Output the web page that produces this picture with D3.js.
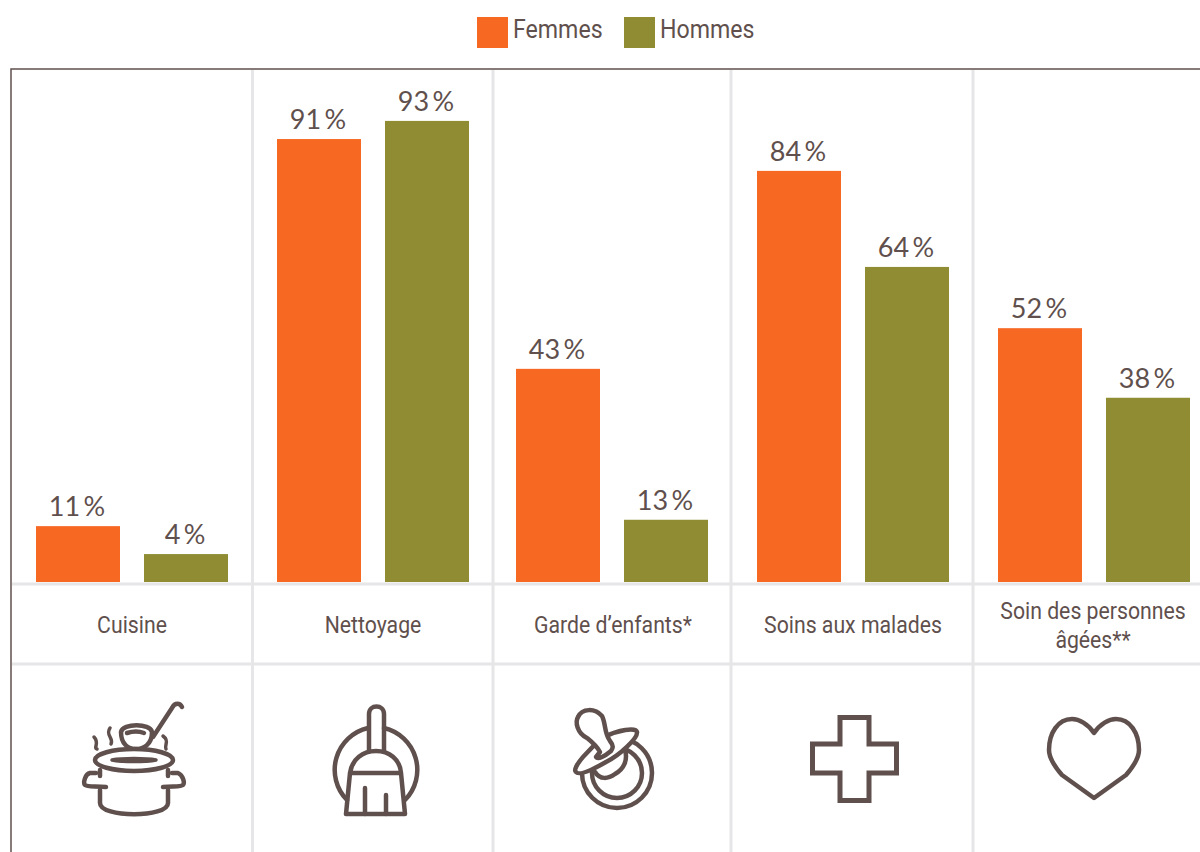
<!DOCTYPE html>
<html><head><meta charset="utf-8">
<script src="https://cdn.jsdelivr.net/npm/d3@7/dist/d3.min.js"></script>
<style>html,body{margin:0;background:#fff}svg{display:block}</style>
</head><body><svg id="c" width="1200" height="852"></svg>
<script>
const categories = ["Cuisine","Nettoyage","Garde d’enfants*","Soins aux malades","Soin des personnes|âgées**"];
const series = ["Femmes","Hommes"];
const femmesLabels = ["11\u2009%","91\u2009%","43\u2009%","84\u2009%","52\u2009%"];
const hommesLabels = ["4\u2009%","93\u2009%","13\u2009%","64\u2009%","38\u2009%"];
const femmesBars = [11.4,90.4,43.5,83.9,51.8];
const hommesBars = [5.7,94.1,12.7,64.3,37.6];

const ink="#5f504d", grid="#e6e6e8", colors=d3.scaleOrdinal(series,["#f76823","#8f8c33"]);
const svg=d3.select("#c");
const y=d3.scaleLinear([0,100],[582,92]);
const edges=[11,252.5,493,731,973,1215];
const cx=d3.scaleOrdinal(categories,[132,373,612,853,1094]);
const x1=d3.scaleBand(series,[-96,96]).paddingInner(24/108);

// frame
const g=svg.append("g").attr("stroke",grid).attr("stroke-width",3);
edges.slice(1,5).forEach(e=>g.append("line").attr("x1",e).attr("x2",e).attr("y1",70).attr("y2",852));
[584,664].forEach(v=>g.append("line").attr("x1",12).attr("x2",1200).attr("y1",v).attr("y2",v));
svg.append("path").attr("d","M11 852V69H1200").attr("fill","none").attr("stroke",ink).attr("stroke-width",1.5);

// bars and labels
series.forEach((s,si)=>{
  const vals=si?hommesBars:femmesBars, labs=si?hommesLabels:femmesLabels;
  const xp=i=>cx(categories[i])+x1(s);
  svg.append("g").selectAll("rect").data(vals).join("rect")
    .attr("x",(d,i)=>xp(i)).attr("width",x1.bandwidth())
    .attr("y",d=>y(d)).attr("height",d=>y(0)-y(d)).attr("fill",colors(s));
  svg.append("g").selectAll("text").data(labs).join("text")
    .attr("x",(d,i)=>xp(i)+x1.bandwidth()/2-1).attr("y",(d,i)=>y(vals[i])-10)
    .attr("text-anchor","middle").attr("font-family","Lato").attr("font-size",27).attr("fill",ink)
    .text(d=>d);
});

// category labels
function cond(sel,px,py,str,size,anchor,sx){
  sel.append("text").attr("transform",`translate(${px},${py}) scale(${sx},1)`)
    .attr("text-anchor",anchor).attr("font-family","Roboto").attr("font-size",size).attr("fill",ink).text(str);
}
categories.forEach(c=>{
  const parts=c.split("|");
  if(parts.length===1) cond(svg,cx(c)+(c==="Garde d’enfants*"?1:0),633,c,24,"middle",.885);
  else { cond(svg,cx(c)-1,619,parts[0],24,"middle",.885); cond(svg,cx(c)-1,648,parts[1],24,"middle",.885); }
});

// legend
const legendX=d3.scaleOrdinal(series,[477,624]);
series.forEach(s=>{
  svg.append("rect").attr("x",legendX(s)).attr("y",17).attr("width",31).attr("height",31).attr("fill",colors(s));
  cond(svg,legendX(s)+36,38,s,26,"start",.89);
});

// icons
const ic=svg.append("g").attr("fill","none").attr("stroke",ink).attr("stroke-width",4.5)
  .attr("stroke-linecap","round").attr("stroke-linejoin","round");
const P=(d,extra)=>{const p=ic.append("path").attr("d",d);if(extra)p.attr("fill",extra);return p;};
// pot
P("M121 732C123 723 150 723 152 732C152 745 143 749 136 749C128 749 121 744 121 732Z");
P("M127 733C133 731 139 731 144 733");
P("M153 737L172 708C175 702 180 703 182 707");
P("M95 760a39 11 0 1 0 78 0a39 11 0 1 0 -78 0Z","#fff");
P("M112 760C122 758 146 758 156 760C146 762 122 762 112 760Z").attr("stroke-width",3.5);
P("M100 770V776M168 770V776M100 790V803C100 818 168 818 168 803V790");
P("M96 773H90C85 774 83 783 85 785C87 787 95 786 106 787M172 773H178C183 775 185 783 183 785C181 787 173 786 163 787");
P("M94 737C100 743 93 748 97 749M110 728C105 735 114 738 111 744M163 736C170 741 164 745 166 749").attr("stroke-width",3.5);
// broom
P("M368 728A43 43 0 0 0 347 800M384 728A43 43 0 0 1 405 800");
P("M369 750V714C369 704 384 704 384 714V750");
P("M350 773C352 759 363 751 376 751C389 751 400 759 401 773H350ZM350 773L346 814H405L401 773");
P("M365 788V814M386 795V814");
// pacifier
ic.append("circle").attr("cx",617).attr("cy",773).attr("r",35);
ic.append("circle").attr("cx",617).attr("cy",773).attr("r",25);
P("M595 772C600 780 608 779 615 774C624 769 628 760 625 750","#fff");
P("M576 772C571 768 590 748 604 737C618 730 636 727 637 732C638 738 620 755 606 762C592 770 579 776 576 772Z","#fff");
P("M600 752C596 745 592 742 587 738C577 733 575 722 578 717C582 708 595 708 602 716C606 724 604 733 610 741C614 746 613 748 611 751C605 756 598 760 596 757Z","#fff");
// cross
P("M840 717.5H869V744H896.5V773H869V800.5H840V773H812.5V744H840Z").attr("stroke-width",5).attr("stroke-linecap","butt").attr("stroke-linejoin","miter");
// heart
P("M1094 733C1088 724 1079 719 1072 719C1058 719 1049 733 1049 750C1049 759 1055 767 1062 775L1094 798L1126 775C1133 767 1139 759 1139 750C1139 733 1130 719 1116 719C1109 719 1100 724 1094 733Z");
</script></body></html>
